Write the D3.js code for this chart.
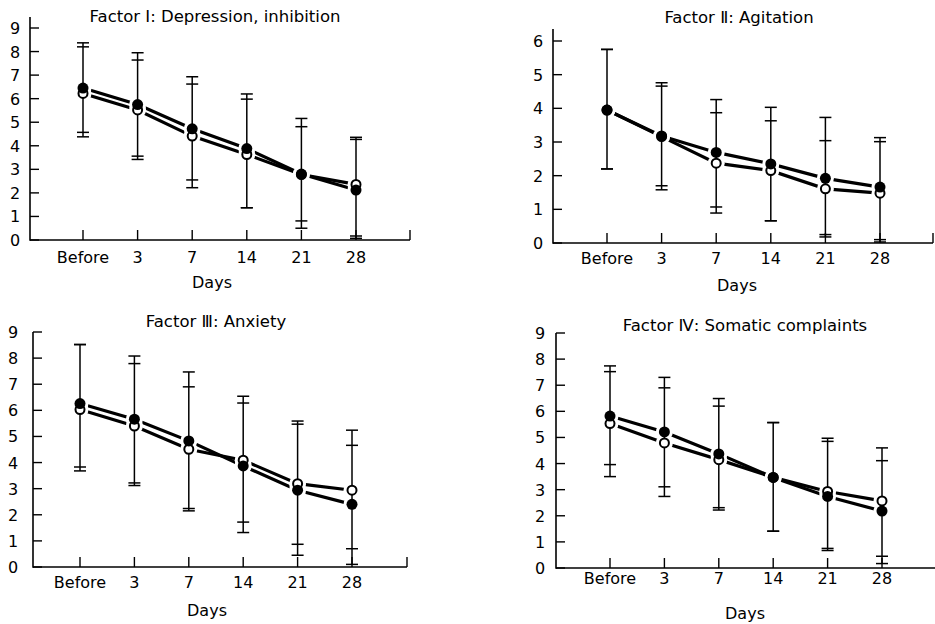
<!DOCTYPE html>
<html lang="en">
<head>
  <meta charset="UTF-8">
  <title>Factor scores over time</title>
  <script src="https://d3js.org/d3.v7.min.js"></script>
  <style>
    body {
      margin: 0;
      padding: 0;
      background: #fff;
    }
    svg text {
      font-family: 'DejaVu Sans', sans-serif;
      fill: #000;
    }
  </style>
</head>
<body>
  <svg id="chart" width="935" height="624"></svg>
  <script>
    // categories shared by all four panels
    const categories = ["Before", "3", "7", "14", "21", "28"];

    // Factor I : Depression, inhibition
    const f1Filled   = [6.45, 5.75, 4.72, 3.88, 2.80, 2.12];
    const f1FilledHi = [8.37, 7.95, 6.93, 6.20, 5.16, 4.36];
    const f1FilledLo = [4.57, 3.56, 2.55, 1.37, 0.50, 0.07];
    const f1Open     = [6.22, 5.52, 4.41, 3.63, 2.78, 2.36];
    const f1OpenHi   = [8.20, 7.64, 6.62, 5.98, 4.81, 4.27];
    const f1OpenLo   = [4.38, 3.42, 2.22, 1.37, 0.81, 0.17];

    // Factor II : Agitation
    const f2Filled   = [3.95, 3.18, 2.69, 2.35, 1.92, 1.66];
    const f2FilledHi = [5.75, 4.76, 4.26, 4.03, 3.73, 3.13];
    const f2FilledLo = [2.20, 1.58, 1.07, 0.66, 0.18, 0.10];
    const f2Open     = [3.95, 3.16, 2.37, 2.15, 1.61, 1.48];
    const f2OpenHi   = [5.75, 4.66, 3.87, 3.63, 3.04, 3.01];
    const f2OpenLo   = [2.20, 1.70, 0.89, 0.66, 0.25, 0.03];

    // Factor III : Anxiety
    const f3Filled   = [6.26, 5.66, 4.83, 3.87, 2.94, 2.40];
    const f3FilledHi = [8.52, 8.08, 7.47, 6.28, 5.47, 4.66];
    const f3FilledLo = [3.83, 3.22, 2.15, 1.32, 0.45, 0.10];
    const f3Open     = [6.03, 5.40, 4.51, 4.09, 3.19, 2.94];
    const f3OpenHi   = [8.52, 7.79, 6.90, 6.54, 5.59, 5.24];
    const f3OpenLo   = [3.68, 3.12, 2.24, 1.72, 0.87, 0.70];

    // Factor IV : Somatic complaints
    const f4Filled   = [5.82, 5.21, 4.37, 3.47, 2.74, 2.18];
    const f4FilledHi = [7.74, 7.30, 6.49, 5.57, 4.85, 4.11];
    const f4FilledLo = [3.96, 3.11, 2.31, 1.41, 0.67, 0.17];
    const f4Open     = [5.53, 4.79, 4.15, 3.47, 2.93, 2.57];
    const f4OpenHi   = [7.52, 6.90, 6.20, 5.57, 4.97, 4.60];
    const f4OpenLo   = [3.50, 2.74, 2.22, 1.41, 0.75, 0.45];

    const ticks9 = [0, 1, 2, 3, 4, 5, 6, 7, 8, 9];
    const ticks6 = [0, 1, 2, 3, 4, 5, 6];

    const titles = [
      "Factor \u2160: Depression, inhibition",
      "Factor \u2161: Agitation",
      "Factor \u2162: Anxiety",
      "Factor \u2163: Somatic complaints"
    ];

    // panel layout (pixels)
    const panels = [
      { title: titles[0], yMax: 9, ticks: ticks9,
        filled: f1Filled, filledHi: f1FilledHi, filledLo: f1FilledLo,
        open: f1Open, openHi: f1OpenHi, openLo: f1OpenLo,
        ax: 30, y0: 240, yTopTick: 28, axisTop: 17, xEnd: 410, endTick: true,
        cx: [83, 356], labX: 15, catY: 263, daysX: 212, daysY: 288, titleX: 215, titleY: 22 },
      { title: titles[1], yMax: 6, ticks: ticks6,
        filled: f2Filled, filledHi: f2FilledHi, filledLo: f2FilledLo,
        open: f2Open, openHi: f2OpenHi, openLo: f2OpenLo,
        ax: 553, y0: 243, yTopTick: 41, axisTop: 29, xEnd: 933, endTick: true,
        cx: [607, 880], labX: 538, catY: 264, daysX: 737, daysY: 291, titleX: 739, titleY: 23 },
      { title: titles[2], yMax: 9, ticks: ticks9,
        filled: f3Filled, filledHi: f3FilledHi, filledLo: f3FilledLo,
        open: f3Open, openHi: f3OpenHi, openLo: f3OpenLo,
        ax: 33, y0: 567, yTopTick: 332, axisTop: 332, xEnd: 407, endTick: true,
        cx: [80, 352], labX: 13, catY: 588, daysX: 207, daysY: 616, titleX: 216, titleY: 327 },
      { title: titles[3], yMax: 9, ticks: ticks9,
        filled: f4Filled, filledHi: f4FilledHi, filledLo: f4FilledLo,
        open: f4Open, openHi: f4OpenHi, openLo: f4OpenLo,
        ax: 556, y0: 568, yTopTick: 333, axisTop: 333, xEnd: 935, endTick: false,
        cx: [610, 882], labX: 540, catY: 584, daysX: 745, daysY: 619, titleX: 745, titleY: 331 }
    ];

    const svg = d3.select('#chart');

    const drawPanel = (p) => {
      const g = svg.append('g');
      const x = d3.scalePoint().domain(categories).range(p.cx);
      const y = d3.scaleLinear().domain([0, p.yMax]).range([p.y0, p.yTopTick]);

      // title
      g.append('text')
        .attr('x', p.titleX).attr('y', p.titleY)
        .attr('text-anchor', 'middle')
        .style('font-size', '16.5px')
        .text(p.title);

      // y axis line
      g.append('line')
        .attr('x1', p.ax).attr('x2', p.ax)
        .attr('y1', p.axisTop).attr('y2', p.y0 + 0.75)
        .attr('stroke', '#000').attr('stroke-width', 1.6);

      // y ticks, pointing inwards
      g.selectAll('.ytick').data(p.ticks).enter().append('line')
        .attr('x1', p.ax).attr('x2', p.ax + 9)
        .attr('y1', d => y(d)).attr('y2', d => y(d))
        .attr('stroke', '#000').attr('stroke-width', 1.4);

      g.selectAll('.ylab').data(p.ticks).enter().append('text')
        .attr('x', p.labX).attr('y', d => y(d) + 6)
        .attr('text-anchor', 'middle')
        .style('font-size', '16px')
        .text(d => d);

      // x axis line
      g.append('line')
        .attr('x1', p.ax).attr('x2', p.xEnd)
        .attr('y1', p.y0).attr('y2', p.y0)
        .attr('stroke', '#000').attr('stroke-width', 1.6);
      if (p.endTick) {
        g.append('line')
          .attr('x1', p.xEnd).attr('x2', p.xEnd)
          .attr('y1', p.y0).attr('y2', p.y0 - 10)
          .attr('stroke', '#000').attr('stroke-width', 1.4);
      }

      // category ticks, pointing up
      g.selectAll('.xtick').data(categories).enter().append('line')
        .attr('x1', d => x(d)).attr('x2', d => x(d))
        .attr('y1', p.y0).attr('y2', p.y0 - 10)
        .attr('stroke', '#000').attr('stroke-width', 1.4);

      g.selectAll('.xlab').data(categories).enter().append('text')
        .attr('x', d => x(d)).attr('y', p.catY)
        .attr('text-anchor', 'middle')
        .style('font-size', '16px')
        .text(d => d);

      g.append('text')
        .attr('x', p.daysX).attr('y', p.daysY)
        .attr('text-anchor', 'middle')
        .style('font-size', '16px')
        .text('Days');

      // connecting lines
      const line = d3.line()
        .x((d, i) => x(categories[i]))
        .y(d => y(d));

      [p.open, p.filled].forEach(series => {
        g.append('path')
          .attr('d', line(series))
          .attr('fill', 'none')
          .attr('stroke', '#000')
          .attr('stroke-width', 3.2);
      });

      // white halos break the lines near each marker
      [p.open, p.filled].forEach(series => {
        g.selectAll(null).data(series).enter().append('circle')
          .attr('cx', (d, i) => x(categories[i]))
          .attr('cy', d => y(d))
          .attr('r', 8.5)
          .attr('fill', '#fff');
      });

      // error bars
      categories.forEach((c, i) => {
        const vals = [p.filledHi[i], p.filledLo[i], p.openHi[i], p.openLo[i]];
        g.append('line')
          .attr('x1', x(c)).attr('x2', x(c))
          .attr('y1', y(d3.max(vals))).attr('y2', y(d3.min(vals)))
          .attr('stroke', '#000').attr('stroke-width', 1.5);
        g.selectAll(null).data(vals).enter().append('line')
          .attr('x1', x(c) - 6).attr('x2', x(c) + 6)
          .attr('y1', d => y(d)).attr('y2', d => y(d))
          .attr('stroke', '#000').attr('stroke-width', 1.5);
      });

      // markers: open first, filled on top
      g.selectAll(null).data(p.open).enter().append('circle')
        .attr('cx', (d, i) => x(categories[i]))
        .attr('cy', d => y(d))
        .attr('r', 4.5)
        .attr('fill', '#fff')
        .attr('stroke', '#000')
        .attr('stroke-width', 2);

      g.selectAll(null).data(p.filled).enter().append('circle')
        .attr('cx', (d, i) => x(categories[i]))
        .attr('cy', d => y(d))
        .attr('r', 5.5)
        .attr('fill', '#000');
    };

    panels.forEach(drawPanel);
  </script>
</body>
</html>
